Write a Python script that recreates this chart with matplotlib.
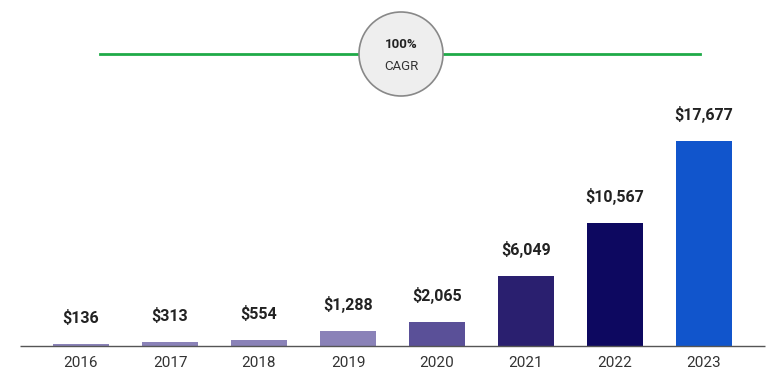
import matplotlib
matplotlib.use("Agg")
import matplotlib.pyplot as plt
from matplotlib.patches import Ellipse

years = ["2016", "2017", "2018", "2019", "2020", "2021", "2022", "2023"]
values = [136, 313, 554, 1288, 2065, 6049, 10567, 17677]
labels = ["$136", "$313", "$554", "$1,288", "$2,065", "$6,049", "$10,567", "$17,677"]
colors = ["#8a82b8", "#8a82b8", "#8a82b8", "#8a82b8", "#5a5098", "#2a1f6f", "#0d0860", "#1155cc"]
cagr_value = "100%"
cagr_label = "CAGR"

plt.rcParams['font.family'] = ['Roboto', 'DejaVu Sans']

W, H = 778, 386
fig = plt.figure(figsize=(W / 100, H / 100), dpi=100)
ax = fig.add_axes([0, 0, 1, 1])
ax.set_axis_off()

# pixel mapping
x0_px, step_px = 81, 89
base_px, top_px = 346, 141
ppu = (base_px - top_px) / max(values)
ax.set_xlim(-x0_px / step_px, (W - x0_px) / step_px)
ax.set_ylim(-(H - base_px) / ppu, base_px / ppu)

xs = list(range(len(years)))
ax.bar(xs, values, width=0.64, color=colors, zorder=2)
ax.hlines(0, -61 / step_px, (765 - x0_px) / step_px, color="#555555", lw=1, zorder=3)

for x, v, lab in zip(xs, values, labels):
    ax.annotate(lab, (x, v), xytext=(0, 13), textcoords="offset points",
                ha="center", va="bottom", fontsize=11.5, fontweight="bold", color="#222222")
    ax.annotate(years[x], (x, 0), xytext=(0, -7), textcoords="offset points",
                ha="center", va="top", fontsize=11, color="#333333")

# CAGR line and circle
cy = 1 - 54 / H
ax.plot([100 / W, 700 / W], [cy, cy], transform=ax.transAxes, color="#1faa48", lw=2, zorder=4)
circ = Ellipse((401 / W, cy), 84 / W, 84 / H, transform=ax.transAxes,
               facecolor="#eeeeee", edgecolor="#888888", lw=1.2, zorder=5)
ax.add_patch(circ)
ax.text(401 / W, 1 - 45 / H, cagr_value, transform=ax.transAxes, ha="center", va="center",
        fontsize=9.5, fontweight="bold", color="#222222", zorder=6)
ax.text(401 / W, 1 - 66 / H, cagr_label, transform=ax.transAxes, ha="center", va="center",
        fontsize=9.5, color="#333333", zorder=6)

fig.savefig("out.png", dpi=100)
